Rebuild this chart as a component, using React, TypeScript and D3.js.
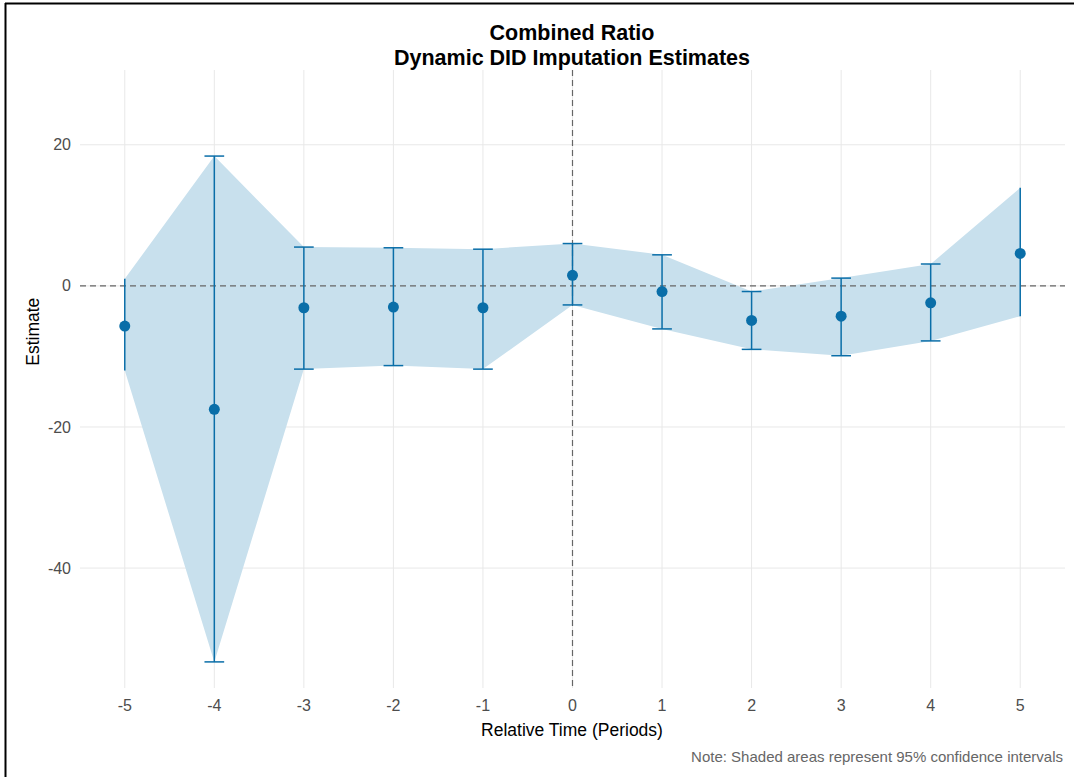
import React from 'react';
import * as d3 from 'd3';

// relative periods and DID imputation estimates
const periods = [-5, -4, -3, -2, -1, 0, 1, 2, 3, 4, 5];
const estimates = [-5.7, -17.5, -3.1, -3.0, -3.1, 1.5, -0.8, -4.9, -4.3, -2.4, 4.6];
const ciLower = [-12.0, -53.3, -11.8, -11.3, -11.8, -2.7, -6.1, -9.0, -9.9, -7.8, -4.3];
const ciUpper = [1.0, 18.4, 5.5, 5.4, 5.2, 6.0, 4.4, -0.8, 1.1, 3.1, 13.9];
const yTicks = [-40, -20, 0, 20];

const W = 1074;
const H = 777;
const FONT = '"Liberation Sans", Arial, sans-serif';
const BLUE = '#0a6ea8';

const App: React.FC = () => {
  const x = d3.scaleLinear().domain([-5.5, 5.5]).range([80, 1065]);
  const y = d3.scaleLinear().domain([-57, 30.6]).range([688, 70]);

  const rows = periods.map((p, i) => ({ p, est: estimates[i], lo: ciLower[i], hi: ciUpper[i] }));

  const ribbon = d3.area<any>()
    .x(d => x(d.p))
    .y0(d => y(d.lo))
    .y1(d => y(d.hi))(rows) as string;

  const capHalf = x(0.11) - x(0);

  return (
    <svg width={W} height={H} style={{ position: 'absolute', left: 0, top: 0, background: '#fff' }}
      fontFamily={FONT}>
      <rect x={0} y={0} width={W} height={H} fill="#fff" />
      {/* frame, left and top only */}
      <line x1={5.5} y1={3} x2={5.5} y2={H} stroke="#000" strokeWidth={2} />
      <line x1={5} y1={3.5} x2={W} y2={3.5} stroke="#000" strokeWidth={2} />

      {/* gridlines */}
      {yTicks.map(t => (
        <line key={'gy' + t} x1={80} x2={1065} y1={y(t)} y2={y(t)} stroke="#e8e8e8" strokeWidth={1} />
      ))}
      {periods.map(p => (
        <line key={'gx' + p} x1={x(p)} x2={x(p)} y1={70} y2={688} stroke="#e8e8e8" strokeWidth={1} />
      ))}

      <path d={ribbon} fill="#c8e0ed" />

      {/* zero reference lines */}
      <line x1={80} x2={1065} y1={y(0)} y2={y(0)} stroke="#666" strokeWidth={1.2} strokeDasharray="6,4" />
      <line x1={x(0)} x2={x(0)} y1={70} y2={688} stroke="#666" strokeWidth={1.2} strokeDasharray="6,4" />

      {/* error bars */}
      {rows.map((d, i) => (
        <g key={'eb' + d.p} stroke={BLUE} strokeWidth={1.5}>
          <line x1={x(d.p)} x2={x(d.p)} y1={y(d.hi)} y2={y(d.lo)} />
          {i > 0 && i < rows.length - 1 && (
            <>
              <line x1={x(d.p) - capHalf} x2={x(d.p) + capHalf} y1={y(d.hi)} y2={y(d.hi)} />
              <line x1={x(d.p) - capHalf} x2={x(d.p) + capHalf} y1={y(d.lo)} y2={y(d.lo)} />
            </>
          )}
        </g>
      ))}
      {rows.map(d => (
        <circle key={'pt' + d.p} cx={x(d.p)} cy={y(d.est)} r={5.5} fill={BLUE} />
      ))}

      {/* axes text */}
      {yTicks.map(t => (
        <text key={'ty' + t} x={71} y={y(t)} dy="0.35em" textAnchor="end" fontSize={16} fill="#4d4d4d">{t}</text>
      ))}
      {periods.map(p => (
        <text key={'tx' + p} x={x(p)} y={711} textAnchor="middle" fontSize={16} fill="#4d4d4d">{p}</text>
      ))}
      <text x={572} y={736} textAnchor="middle" fontSize={17.5} fill="#000">Relative Time (Periods)</text>
      <text transform={`translate(39,${y(-6.5)}) rotate(-90)`} textAnchor="middle" fontSize={17.5} fill="#000">Estimate</text>

      <text x={572} y={40} textAnchor="middle" fontSize={21.5} fontWeight="bold" fill="#000">Combined Ratio</text>
      <text x={572} y={65} textAnchor="middle" fontSize={21.5} fontWeight="bold" fill="#000">Dynamic DID Imputation Estimates</text>

      <text x={1063} y={762} textAnchor="end" fontSize={15} fill="#666">Note: Shaded areas represent 95% confidence intervals</text>
    </svg>
  );
};

export default App;
